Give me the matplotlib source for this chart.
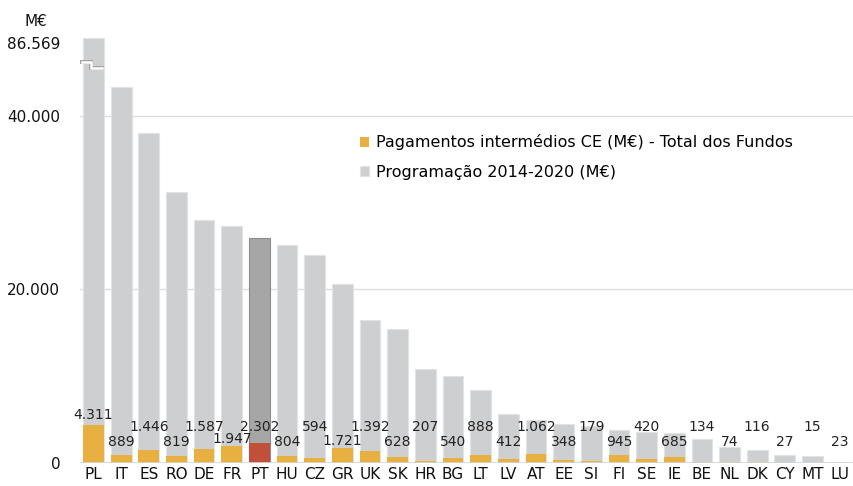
import numpy as np
import matplotlib.pyplot as plt
import matplotlib.patheffects as pe

# countries, programming 2014-2020 (M€) and EC interim payments (M€)
paises = ["PL", "IT", "ES", "RO", "DE", "FR", "PT", "HU", "CZ", "GR", "UK", "SK", "HR", "BG",
          "LT", "LV", "AT", "EE", "SI", "FI", "SE", "IE", "BE", "NL", "DK", "CY", "MT", "LU"]
programacao = [86569, 43300, 38000, 31200, 28000, 27250, 25900, 25100, 24000, 20600, 16500, 15400,
               10800, 10000, 8450, 5600, 4900, 4450, 4200, 3750, 3600, 3400, 2700, 1850, 1500, 870, 800, 140]
pagamentos = [4311, 889, 1446, 819, 1587, 1947, 2302, 804, 594, 1721, 1392, 628, 207, 540,
              888, 412, 1062, 348, 179, 945, 420, 685, 134, 74, 116, 27, 15, 23]

pl_desenhado = 49000  # PL bar is drawn cut (broken axis)
destaque = "PT"

cinza = "#cecfd1"
laranja = "#e8b041"
cinza_pt = "#a6a6a6"
vermelho = "#c0503a"

x = np.arange(len(paises))
prog_plot = [min(v, pl_desenhado) for v in programacao]

fig = plt.figure(figsize=(8.54, 4.86), dpi=100)
ax = fig.add_axes([0.0933, 0.0477, 0.9067, 0.8926])

cores_prog = [cinza_pt if p == destaque else cinza for p in paises]
cores_pag = [vermelho if p == destaque else laranja for p in paises]
bordas = ["#8c8c8c" if p == destaque else "#e2e3e4" for p in paises]

ax.bar(x, prog_plot, width=0.75, color=cores_prog, edgecolor=bordas, linewidth=0.8, zorder=2,
       label="Programação 2014-2020 (M€)")
ax.bar(x, pagamentos, width=0.75, color=cores_pag, linewidth=0, zorder=3,
       label="Pagamentos intermédios CE (M€) - Total dos Fundos")

# break mark on the PL bar
ax.plot([-0.42, -0.1, -0.1, 0.3], [46150, 46150, 45550, 45550], color="white", lw=1.8,
        solid_joinstyle="miter", zorder=4,
        path_effects=[pe.Stroke(linewidth=2.8, foreground="#a0a0a0"), pe.Normal()])

# value labels, alternating heights
for i, v in enumerate(pagamentos):
    if i % 2 == 0:
        y = max(v + 1150, 4100)
    else:
        y = max(v + 800, 2350)
    ax.text(x[i], y, f"{v:,}".replace(",", "."), ha="center", va="center",
            fontsize=10, color="#222222", zorder=5)

ax.set_xlim(-0.5, 27.5)
ax.set_ylim(0, 50000)
ax.set_xticks(x)
ax.set_xticklabels(paises, fontsize=11, color="#111111")
ax.set_yticks([0, 20000, 40000, 48400])
ax.set_yticklabels(["0", "20.000", "40.000", "86.569"], fontsize=11, color="#111111")
ax.tick_params(length=0)
ax.tick_params(axis="y", pad=14)
ax.tick_params(axis="x", pad=3)

for g in [20000, 40000]:
    ax.axhline(g, color="#dedede", lw=1, zorder=1)
ax.axhline(0, color="#d5d5d5", lw=1.2, zorder=4)

for s in ax.spines.values():
    s.set_visible(False)

fig.text(36 / 854, 1 - 22 / 486, "M€", ha="center", va="center", fontsize=11, color="#111111")

handles, labels = ax.get_legend_handles_labels()
leg = ax.legend(handles[::-1], labels[::-1], loc="upper left", bbox_to_anchor=(0.343, 0.79),
                frameon=False, fontsize=11.5, handlelength=0.6, handleheight=0.6,
                handletextpad=0.4, labelspacing=0.9)

fig.savefig("out.png", dpi=100)
